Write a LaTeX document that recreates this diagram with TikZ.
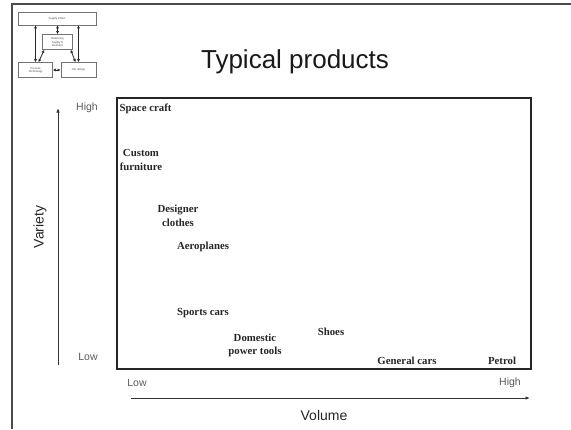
\documentclass[tikz,border=0pt]{standalone}
\usepackage{fontspec}
\setmainfont{Liberation Serif}
\setsansfont{Liberation Sans}
\usetikzlibrary{arrows.meta,calc}
\begin{document}
\begin{tikzpicture}[x=1pt,y=-1pt,
  product/.style={font=\bfseries\fontsize{10.8}{13.5}\selectfont, align=center, inner sep=0pt, text=black!85},
  tick/.style={font=\sffamily\fontsize{10.5}{12}\selectfont, text=black!65, inner sep=0pt},
  axislabel/.style={font=\sffamily\fontsize{14}{16}\selectfont, text=black!85, inner sep=0pt},
  axis/.style={draw=black!80, line width=0.9pt, -{Latex[length=4.5pt,width=3.5pt]}},
  mini/.style={draw=black!55, line width=0.5pt, fill=white, align=center,
    font=\sffamily\fontsize{2.8}{3.2}\selectfont, text=black!70, inner sep=0pt},
  minilink/.style={black!85, line width=0.8pt,
    {Latex[length=3.2pt,width=3.2pt]}-{Latex[length=3.2pt,width=3.2pt]}}
]
\useasboundingbox (0,0) rectangle (571,429);

% slide frame: left rule and top rule
\coordinate (fbl) at (12,429);
\coordinate (ftl) at (12,4);
\coordinate (ftr) at (571,4);
\draw[black!70, line width=1.4pt] (fbl) -- (ftl) -- (ftr);

% small logo diagram in the corner
\node[mini, minimum width=78pt, minimum height=13pt] (sc) at (57,18.5) {Supply Chain};
\node[mini, minimum width=30pt, minimum height=15pt] (bal) at (57.5,42) {Balancing\\Supply \&\\Demand};
\node[mini, minimum width=34pt, minimum height=15pt] (pt) at (35.5,70) {Process\\Technology};
\node[mini, minimum width=35pt, minimum height=15pt] (jd) at (78.5,70) {Job design};
\draw[minilink] (pt.north) -- (pt.north |- sc.south);
\draw[minilink] (jd.north) -- (jd.north |- sc.south);
\draw[minilink] (bal.north) -- (bal.north |- sc.south);
\draw[minilink] ([xshift=2pt]bal.south west) -- ($(pt.north)+(3,0)$);
\draw[minilink] ([xshift=-2pt]bal.south east) -- ($(jd.north)+(-3,0)$);
\draw[minilink] (pt.east) -- (jd.west);

% title
\node[font=\sffamily\fontsize{26}{30}\selectfont, text=black!90, inner sep=0pt] (title) at (295,62) {Typical products};

% chart frame
\node[draw=black!85, line width=1.5pt, minimum width=414pt, minimum height=271pt, inner sep=0pt] (chart) at (324,233.5) {};

% variety axis
\coordinate (vlow) at (58,365);
\coordinate (vhigh) at (58,108);
\draw[axis] (vlow) -- (vhigh);
\node[tick] (vhightxt) at (87,108) {High};
\node[tick] (vlowtxt) at (88,357) {Low};
\node[axislabel, rotate=90] (variety) at (40,227) {Variety};

% volume axis
\coordinate (hlow) at (131,398);
\coordinate (hhigh) at (530,398);
\draw[axis] (hlow) -- (hhigh);
\node[tick] (hlowtxt) at (137,383) {Low};
\node[tick] (hhightxt) at (510,383) {High};
\node[axislabel] (volume) at (324,415) {Volume};

% products
\node[product] (space) at (145.5,109) {Space craft};
\node[product] (furn) at (141,160) {Custom\\furniture};
\node[product] (cloth) at (178,216) {Designer\\clothes};
\node[product] (aero) at (203,247) {Aeroplanes};
\node[product] (sports) at (203,313) {Sports cars};
\node[product] (tools) at (255,345.5) {Domestic\\power tools};
\node[product] (shoes) at (331,332) {Shoes};
\node[product] (gcars) at (407,361) {General cars};
\node[product] (petrol) at (502,361) {Petrol};
\end{tikzpicture}
\end{document}
